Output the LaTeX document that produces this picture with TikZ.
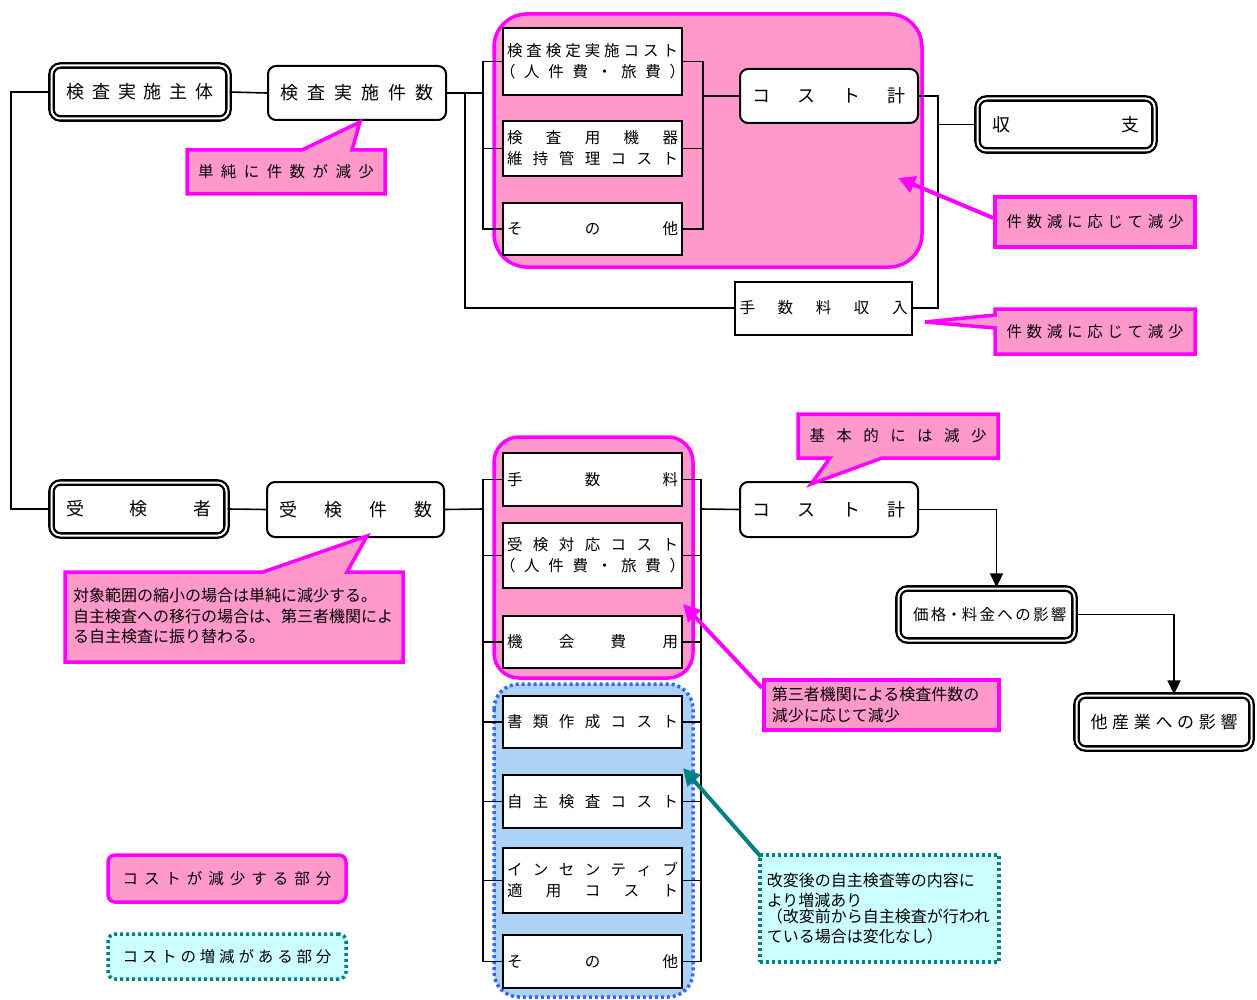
\documentclass[tikz,border=0pt]{standalone}
\usepackage{fontspec}
\setmainfont{Noto Sans CJK JP}
\usetikzlibrary{arrows.meta}
\newcommand{\jw}[2]{\makebox[#1pt][s]{#2}}
\definecolor{pinkfill}{HTML}{FF99CC}
\definecolor{mag}{HTML}{FF00FF}
\definecolor{bluefill}{HTML}{ADD2F5}
\definecolor{bluedot}{HTML}{3366FF}
\definecolor{tealc}{HTML}{008080}
\definecolor{cyanfill}{HTML}{CCFFFF}
\tikzset{
  big/.style={font=\fontsize{18}{22}\selectfont},
  med/.style={font=\fontsize{15.5}{21}\selectfont},
  para/.style={font=\fontsize{16}{20.5}\selectfont, align=left},
  dbox/.style={draw=black, double=white, double distance=2pt, line width=2.3pt, rounded corners=9pt, fill=white, inner sep=0pt, big},
  rbox/.style={draw=black, line width=2pt, rounded corners=8pt, fill=white, inner sep=0pt, big},
  sbox/.style={draw=black, line width=2pt, fill=white, inner sep=0pt, align=center, med},
  conn/.style={line width=1.6pt, black},
  arr/.style={conn, -{Triangle[length=14pt,width=13pt]}},
  pinkreg/.style={draw=mag, fill=pinkfill, line width=3.5pt},
  bluereg/.style={draw=bluedot, fill=bluefill, line width=3.5pt, dash pattern=on 3pt off 3pt},
  callout/.style={draw=mag, fill=pinkfill, line width=3.5pt},
  tealbox/.style={draw=tealc, fill=cyanfill, line width=3.5pt, dash pattern=on 3pt off 3pt},
  magarrow/.style={draw=mag, line width=4pt, -{Triangle[length=17pt,width=17pt]}},
  tealarrow/.style={draw=tealc, line width=4pt, -{Triangle[length=17pt,width=17pt]}},
}
\begin{document}
\begin{tikzpicture}[x=1pt,y=-1pt]
\useasboundingbox (0,0) rectangle (1257,1000);
\fill[white] (0,0) rectangle (1257,1000);

% grouping regions
\draw[pinkreg, rounded corners=33pt] (494,14) rectangle (922,267);
\draw[pinkreg, rounded corners=25pt] (494,437) rectangle (693,678);
\draw[bluereg, rounded corners=25pt] (494,684) rectangle (693,997);

% ---------- nodes ----------
\node[dbox, minimum width=177pt, minimum height=53pt] (shutai) at (140,92) {\jw{147}{検 査 実 施 主 体}};
\node[rbox, minimum width=178pt, minimum height=54pt] (kensu) at (357,93) {\jw{153}{検 査 実 施 件 数}};
\node[sbox, minimum width=179pt, minimum height=67pt] (a1) at (592.5,61.5) {\jw{171}{検 査 検 定 実 施 コ ス ト}\\\jw{171}{\kern-7pt（ 人 件 費 ・ 旅 費 ）\kern-7pt}};
\node[sbox, minimum width=179pt, minimum height=55pt] (a2) at (592.5,148.5) {\jw{171}{検 査 用 機 器}\\\jw{171}{維 持 管 理 コ ス ト}};
\node[sbox, minimum width=179pt, minimum height=52pt] (a3) at (592.5,229) {\jw{171}{そ の 他}};
\node[rbox, minimum width=178pt, minimum height=54pt] (costA) at (829,96) {\jw{153}{コ ス ト 計}};
\node[sbox, minimum width=177pt, minimum height=53pt] (tesuryo) at (823.5,308) {\jw{168}{手 数 料 収 入}};
\node[dbox, minimum width=177pt, minimum height=52pt] (shushi) at (1066,124.5) {\jw{147}{収 支}};

\node[dbox, minimum width=175pt, minimum height=53pt] (jukensha) at (139,509) {\jw{146}{受 検 者}};
\node[rbox, minimum width=177pt, minimum height=55pt] (jukensu) at (355.5,509.5) {\jw{153}{受 検 件 数}};
\node[sbox, minimum width=179pt, minimum height=53pt] (b1) at (592.5,479.5) {\jw{171}{手 数 料}};
\node[sbox, minimum width=179pt, minimum height=65pt] (b2) at (592.5,555.5) {\jw{171}{受 検 対 応 コ ス ト}\\\jw{171}{\kern-7pt（ 人 件 費 ・ 旅 費 ）\kern-7pt}};
\node[sbox, minimum width=179pt, minimum height=52pt] (b3) at (592.5,642) {\jw{171}{機 会 費 用}};
\node[sbox, minimum width=179pt, minimum height=52pt] (b4) at (592.5,722) {\jw{171}{書 類 作 成 コ ス ト}};
\node[sbox, minimum width=179pt, minimum height=53pt] (b5) at (592.5,801.5) {\jw{171}{自 主 検 査 コ ス ト}};
\node[sbox, minimum width=179pt, minimum height=65pt] (b6) at (592.5,880.5) {\jw{171}{イ ン セ ン テ ィ ブ}\\\jw{171}{適 用 コ ス ト}};
\node[sbox, minimum width=179pt, minimum height=53pt] (b7) at (592.5,961.5) {\jw{171}{そ の 他}};
\node[rbox, minimum width=178pt, minimum height=55pt] (costB) at (829,509.5) {\jw{153}{コ ス ト 計}};
\node[dbox, minimum width=176pt, minimum height=52pt, font=\fontsize{15.5}{20}\selectfont] (kakaku) at (986.5,614.5) {\jw{147}{価 格・料 金 へ の 影 響}};
\node[dbox, minimum width=175pt, minimum height=53pt, font=\fontsize{17}{20}\selectfont] (tasangyo) at (1164,722) {\jw{147}{他 産 業 へ の 影 響}};

% ---------- connectors ----------
\coordinate (lL) at (11,92);
\draw[conn] (shutai.west) -- (lL) |- (jukensha.west);
\draw[conn] (shutai.east) -- (kensu.west);
\draw[conn] (jukensha.east) -- (jukensu.west);

% top tree
\coordinate (lA) at (483,93);
\draw[conn] (kensu.east) -- (lA);
\draw[conn] (a1.west) -- (a1.west -| lA) -- (a3.west -| lA) -- (a3.west);
\draw[conn] (a2.west) -- (a2.west -| lA);
\coordinate (vA) at (465,93);
\draw[conn] (vA) |- (tesuryo.west);
\coordinate (mA) at (703,96);
\draw[conn] (a1.east) -- (a1.east -| mA) -- (a3.east -| mA) -- (a3.east);
\draw[conn] (a2.east) -- (a2.east -| mA);
\draw[conn] (mA) -- (costA.west);
\coordinate (rA) at (938,96);
\draw[conn] (costA.east) -- (rA) |- (tesuryo.east);
\draw[conn] (shushi.west) -- (shushi.west -| rA);

% bottom tree
\coordinate (lB) at (483,509);
\draw[conn] (jukensu.east) -- (lB);
\draw[conn] (b1.west) -- (b1.west -| lB) -- (b7.west -| lB) -- (b7.west);
\foreach \n in {b2,b3,b4,b5,b6} \draw[conn] (\n.west) -- (\n.west -| lB);
\coordinate (rB) at (701,509);
\draw[conn] (b1.east) -- (b1.east -| rB) -- (b7.east -| rB) -- (b7.east);
\foreach \n in {b2,b3,b4,b5,b6} \draw[conn] (\n.east) -- (\n.east -| rB);
\draw[conn] (rB) -- (costB.west);
\draw[arr] (costB.east) -| ([xshift=10pt]kakaku.north);
\draw[arr] (kakaku.east) -| ([xshift=10pt]tasangyo.north);

% ---------- callouts ----------
\coordinate (p1) at (898,178);
\coordinate (p2) at (683,604);
\coordinate (p3) at (683,768);
\node[callout, minimum width=200pt, minimum height=50pt, inner sep=0pt, med] (c2) at (1095,222) {\jw{177}{件 数 減 に 応 じ て 減 少}};
\draw[magarrow] ([yshift=4pt]c2.west) -- (p1);

\draw[callout] (187,150) -- (302,150) -- (360,122) -- (352,150) -- (385,150) -- (385,194) -- (187,194) -- cycle;
\node[med, inner sep=0pt] (c1) at (286,172) {\jw{176}{単 純 に 件 数 が 減 少}};

\draw[callout] (995,309) -- (1195,309) -- (1195,354) -- (995,354) -- (995,328) -- (925,322) -- (995,315) -- cycle;
\node[med, inner sep=0pt] (c3) at (1095,331.5) {\jw{177}{件 数 減 に 応 じ て 減 少}};

\draw[callout] (798,414) -- (998,414) -- (998,458) -- (882,458) -- (811,484) -- (830,458) -- (798,458) -- cycle;
\node[med, inner sep=0pt] (c4) at (898,436) {\jw{177}{基 本 的 に は 減 少}};

\draw[callout] (65,572) -- (263,572) -- (367,536) -- (347,572) -- (403,572) -- (403,662) -- (65,662) -- cycle;
\node[para, inner sep=0pt, anchor=west] (c5) at (73,616) {対象範囲の縮小の場合は単純に減少する。\\自主検査への移行の場合は、第三者機関によ\\る自主検査に振り替わる。};

\draw[magarrow] (762,688) -- (p2);
\node[callout, para, anchor=west, text width=219pt, inner xsep=8pt, inner ysep=0pt, minimum height=50pt] (c6) at (762,705) {第三者機関による検査件数の\\減少に応じて減少};

\draw[tealarrow] (762,858) -- (p3);
\node[tealbox, para, anchor=west, text width=225pt, inner xsep=7pt, inner ysep=0pt, minimum height=107pt] (c7) at (758,908.5) {改変後の自主検査等の内容に\\より増減あり\\\kern-5pt（改変前から自主検査が行われ\\ている場合は変化なし）};

% ---------- legend ----------
\node[draw=mag, fill=pinkfill, line width=3.5pt, rounded corners=7pt, minimum width=238pt, minimum height=47pt, inner sep=0pt, med] (lg1) at (227,878.5) {\jw{209}{コ ス ト が 減 少 す る 部 分}};
\node[tealbox, rounded corners=7pt, minimum width=238pt, minimum height=45pt, inner sep=0pt, med] (lg2) at (227,956.5) {\jw{209}{コ ス ト の 増 減 が あ る 部 分}};
\end{tikzpicture}
\end{document}
